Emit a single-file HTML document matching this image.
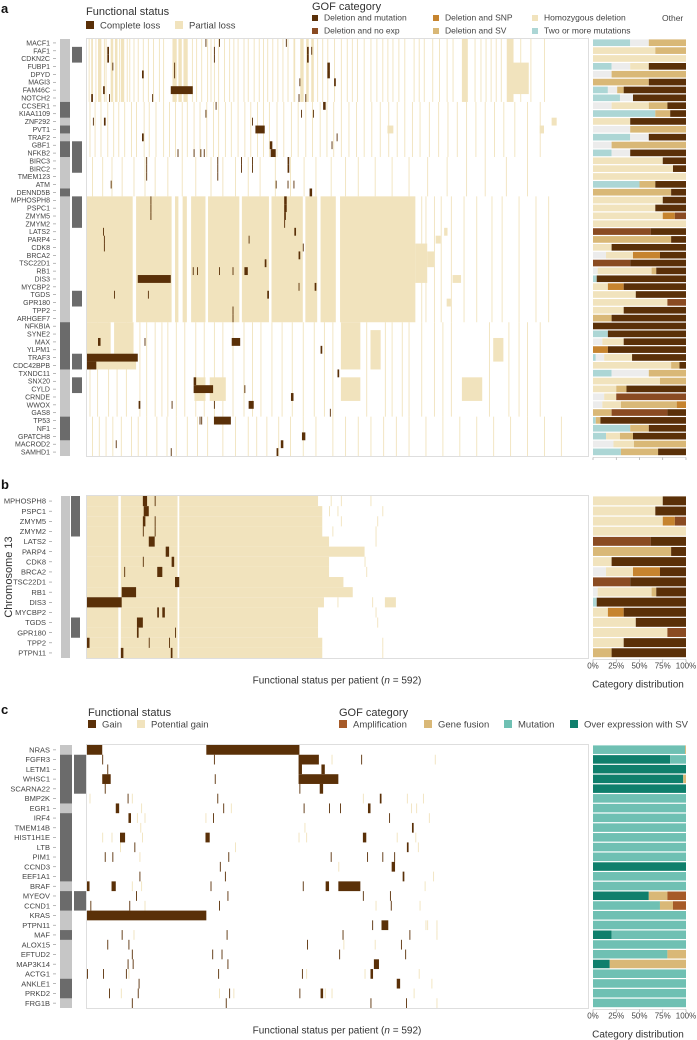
<!DOCTYPE html>
<html><head><meta charset="utf-8"><style>
html,body{margin:0;padding:0;background:#fff}
svg{display:block;font-family:"Liberation Sans",sans-serif}
</style></head><body>
<svg id="fig" width="697" height="1040" viewBox="0 0 697 1040" xmlns="http://www.w3.org/2000/svg"></svg>
<script>
// ---------- DATA ----------
const genesA=["MACF1","FAF1","CDKN2C","FUBP1","DPYD","MAGI3","FAM46C","NOTCH2","CCSER1","KIAA1109","ZNF292","PVT1","TRAF2","GBF1","NFKB2","BIRC3","BIRC2","TMEM123","ATM","DENND5B","MPHOSPH8","PSPC1","ZMYM5","ZMYM2","LATS2","PARP4","CDK8","BRCA2","TSC22D1","RB1","DIS3","MYCBP2","TGDS","GPR180","TPP2","ARHGEF7","NFKBIA","SYNE2","MAX","YLPM1","TRAF3","CDC42BPB","TXNDC11","SNX20","CYLD","CRNDE","WWOX","GAS8","TP53","NF1","GPATCH8","MACROD2","SAMHD1"];
const genesB=["MPHOSPH8","PSPC1","ZMYM5","ZMYM2","LATS2","PARP4","CDK8","BRCA2","TSC22D1","RB1","DIS3","MYCBP2","TGDS","GPR180","TPP2","PTPN11"];
const genesC=["NRAS","FGFR3","LETM1","WHSC1","SCARNA22","BMP2K","EGR1","IRF4","TMEM14B","HIST1H1E","LTB","PIM1","CCND3","EEF1A1","BRAF","MYEOV","CCND1","KRAS","PTPN11","MAF","ALOX15","EFTUD2","MAP3K14","ACTG1","ANKLE1","PRKD2","FRG1B"];
const nPatients=592;
// annotation columns (row ranges that are dark)
const annoA1=[[8,9],[11,11],[13,14],[19,19],[36,41],[48,50]];
const annoA2=[[1,2],[13,16],[20,23],[32,33],[40,41],[43,44]];
const annoB2=[[0,3],[12,13]];
const annoC1=[[1,5],[7,13],[15,16],[19,19],[24,25]];
const annoC2=[[1,4],[15,16]];
// panel a partial-loss stripes by row band [rowStart,rowEnd]
const bandsA=[[0,7],[8,14],[15,19],[20,35],[36,47],[48,52]];
const stripesTop=[2,[5,7],10,[13,17],20,22,[28,31],[33,36],38,[40,44],47,50,55,60,66,72,78,85,90,[101,106],[108,112],[114,119],124,129,135,142,146,150,155,162,168,173,178,185,190,197,203,208,213,219,225,231,237,[244,246],[252,256],[259,262],[265,268],272,278,284,292,300,307,313,319,327,335,342,349,355,361,368,375,386,392,398,408,416,425,432,[443,450],458,465,471,477,483,489,[496,504],512,524,540];
const stripesMid=[3,9,16,24,31,37,44,52,58,67,73,81,90,97,104,112,118,126,133,141,149,155,163,170,178,186,193,201,208,215,224,232,241,249,258,266,275,283,291,300,309,318,327,336,346,356,366,375,384,393,404,415,426,437,448,459,470,481,492,505,520,535];
const stripesLowMid=[6,18,29,41,55,68,80,95,112,128,146,160,175,190,204,222,240,256,270,288,305,320,340,360,380,402,425,448,470,495,520];
const chr13SpansA=[[0,54],[58,100],[104,108],[113,118],[123,140],[143,180],[183,215],[218,255],[258,272],[276,294],[299,388]];
const stripesChr13Right=[395,400,410,418,430,445,460,478,490,510,530,545];
const stripesLow=[3,12,25,35,46,62,70,80,88,95,105,115,128,138,150,160,172,185,195,205,218,230,242,255,268,280,290,330,352,360,372,380,395,410,420,430,475,498,510,520,535];
const stripesBottom=[6,14,22,30,40,52,60,70,82,94,105,118,130,142,160,175,190,200,212,226,240,255,270,290,305,320,335,350,365,380,400,420,440,460,480,500,520,540,560];
const bandStripes=[stripesTop,stripesMid,stripesLowMid,stripesChr13Right,stripesLow,stripesBottom];
// partial patches [rowStart,rowEnd,p0,p1]
const patchesA=[[3,6,498,522],[10,10,549,555],[11,11,535,540],[11,11,355,362],[26,30,388,402],[27,28,402,410],[25,25,412,418],[24,24,422,426],[30,30,432,442],[33,33,425,430],[36,39,0,28],[36,39,32,55],[40,41,0,58],[36,41,300,323],[37,41,335,347],[38,40,480,492],[43,45,127,140],[43,45,145,164],[43,45,300,323],[43,45,443,467]];
// complete loss [row,p0,p1]
const lossA=[[1,24,26],[2,24,26],[3,30,31],[4,65,67],[6,99,125],[6,19,21],[7,5,7],[7,26,27],[7,77,78],[3,103,104],[4,103,104],[0,140,141],[0,156,157],[1,150,151],[2,150,151],[0,235,236],[1,260,262],[2,260,262],[1,265,266],[3,284,287],[4,284,287],[5,292,294],[5,251,252],[7,250,251],[7,258,259],[8,279,282],[9,140,141],[8,152,153],[9,253,254],[9,267,268],[10,7,8],[10,20,22],[10,195,196],[11,199,210],[12,65,67],[12,295,296],[13,216,219],[14,217,223],[13,289,290],[14,107,108],[14,126,127],[14,134,135],[14,138,139],[15,237,239],[16,237,239],[15,70,71],[16,70,71],[17,70,71],[15,154,155],[16,154,155],[17,154,155],[15,182,183],[16,182,183],[15,195,196],[16,195,196],[18,223,224],[18,237,238],[18,244,245],[18,28,29],[19,263,266],[20,233,236],[21,233,236],[22,233,235],[23,233,234],[20,75,76],[21,75,76],[22,75,76],[24,245,247],[24,19,20],[25,191,192],[25,20,21],[26,20,21],[27,250,252],[29,186,190],[30,60,99],[29,125,126],[29,130,131],[29,156,157],[29,172,173],[32,213,215],[31,269,271],[31,250,251],[32,72,73],[32,32,33],[34,172,173],[35,172,173],[26,255,256],[28,210,212],[38,13,16],[38,68,69],[38,171,181],[39,276,278],[40,0,60],[41,0,11],[42,296,298],[43,126,129],[44,126,149],[45,241,244],[46,61,63],[46,100,101],[46,191,197],[47,287,288],[48,150,170],[48,133,134],[48,135,136],[50,254,258],[51,229,232],[52,224,226],[51,34,35],[52,99,100],[44,186,187],[46,150,151]];
// panel b
const mainSpansB=[[0,37],[40,107],[109,200]];
const rowEndB=[273,278,278,278,286,328,286,286,303,314,280,273,273,273,278,278];
const extraB=[[288,300,335],[286,296,349],[300,343],[290,341],[341],[],[328],[330],[],[],[296,337,[352,365]],[341],[343],[],[349],[349]];
const lossB=[[10,0,41],[9,41,58],[0,66,71],[0,80,81],[1,67,73],[2,66,69],[2,80,81],[3,66,67],[3,80,81],[4,73,80],[5,93,97],[6,100,103],[6,66,67],[7,83,89],[7,44,45],[8,104,109],[11,83,85],[11,89,92],[12,59,66],[13,59,61],[13,104,105],[14,0,3],[14,73,74],[14,97,98],[15,40,43],[15,99,101]];
// panel c gain [row,p0,p1] and potential gain
const gainC=[[0,0,18],[0,141,251],[1,18,19],[1,150,151],[1,250,274],[1,324,325],[2,24,25],[2,250,254],[2,277,281],[3,18,28],[3,151,152],[3,250,297],[4,21,22],[4,251,252],[4,275,279],[5,48,49],[5,154,155],[5,346,348],[6,34,38],[6,161,162],[6,256,257],[6,286,287],[6,299,300],[6,332,335],[7,49,52],[7,149,150],[7,357,358],[8,384,386],[9,39,45],[9,140,145],[9,326,330],[10,56,57],[10,378,380],[11,21,22],[11,30,31],[11,167,168],[11,288,289],[11,331,332],[11,349,350],[11,363,364],[12,157,158],[12,360,364],[13,62,63],[13,163,164],[13,373,375],[14,0,3],[14,29,34],[14,146,147],[14,255,256],[14,282,286],[14,297,323],[15,58,59],[15,166,167],[15,326,327],[15,358,359],[16,4,5],[16,50,51],[16,156,157],[16,359,360],[17,0,141],[18,337,338],[18,348,356],[19,41,42],[19,165,166],[19,302,303],[19,381,382],[20,24,25],[20,49,50],[20,260,261],[20,371,372],[21,53,54],[21,148,149],[21,159,160],[21,298,299],[21,376,377],[22,48,49],[22,54,55],[22,166,167],[22,339,345],[23,0,1],[23,19,20],[23,46,47],[23,155,156],[23,254,255],[23,335,338],[24,61,62],[24,366,370],[25,26,27],[25,60,61],[25,168,169],[25,251,252],[25,276,279],[26,53,54],[26,164,165],[26,335,336],[26,377,378]];
const potC=[[1,289],[1,411],[5,3],[5,53],[5,326],[5,378],[5,397],[6,64],[6,170],[6,383],[6,389],[7,140],[7,59],[7,68],[7,404],[8,63],[8,257],[9,18],[9,29],[9,65],[9,250],[9,259],[9,366],[9,388],[10,39],[10,175],[10,391],[11,62],[12,297],[13,409],[14,53],[14,64],[14,399],[16,68],[16,341],[16,393],[18,400],[18,402],[18,413],[19,55],[19,413],[20,303],[20,340],[23,49],[23,259],[23,328],[23,392],[24,407],[25,40],[25,156],[25,173],[25,281],[25,289],[25,386],[26,413]];
// category distributions [category, fraction]
const distA=[[["B",.4],["O",.2],["S",.4]],[["H",.67],["S",.33]],[["H",1]],[["B",.2],["O",.2],["H",.2],["D",.4]],[["O",.2],["S",.8]],[["S",.6],["D",.4]],[["B",.16],["O",.1],["S",.07],["D",.67]],[["B",.29],["O",.14],["D",.57]],[["O",.2],["H",.4],["S",.2],["D",.2]],[["B",.67],["S",.16],["D",.17]],[["H",.4],["D",.6]],[["O",.4],["S",.6]],[["B",.4],["O",.2],["D",.4]],[["O",.2],["S",.8]],[["B",.2],["O",.2],["D",.6]],[["H",.75],["D",.25]],[["H",.86],["D",.14]],[["H",1]],[["B",.5],["S",.17],["D",.33]],[["S",.84],["D",.16]],[["H",.75],["D",.25]],[["H",.67],["D",.33]],[["H",.75],["P",.13],["N",.12]],[["H",1]],[["N",.62],["D",.38]],[["S",.84],["D",.16]],[["H",.2],["D",.8]],[["O",.14],["H",.29],["P",.29],["D",.28]],[["N",.4],["D",.6]],[["O",.05],["H",.58],["S",.05],["D",.32]],[["B",.04],["D",.96]],[["H",.16],["P",.17],["D",.67]],[["H",.46],["D",.54]],[["H",.8],["N",.2]],[["H",.33],["D",.67]],[["S",.2],["D",.8]],[["D",1]],[["B",.16],["D",.84]],[["O",.1],["H",.23],["D",.67]],[["P",.16],["D",.84]],[["B",.03],["O",.09],["H",.3],["D",.58]],[["H",.84],["S",.09],["D",.07]],[["B",.2],["O",.4],["S",.4]],[["H",.72],["S",.28]],[["H",.25],["S",.11],["D",.64]],[["O",.12],["H",.13],["N",.75]],[["O",.1],["H",.2],["S",.6],["P",.1]],[["S",.2],["N",.6],["D",.2]],[["B",.03],["S",.05],["D",.92]],[["B",.4],["S",.2],["D",.4]],[["B",.14],["H",.15],["S",.14],["D",.57]],[["O",.22],["H",.22],["S",.56]],[["B",.3],["S",.4],["D",.3]]];
const distB=[[["H",.75],["D",.25]],[["H",.67],["D",.33]],[["H",.75],["P",.13],["N",.12]],[["H",1]],[["N",.62],["D",.38]],[["S",.84],["D",.16]],[["H",.2],["D",.8]],[["O",.14],["H",.29],["P",.29],["D",.28]],[["N",.4],["D",.6]],[["O",.05],["H",.58],["S",.05],["D",.32]],[["B",.04],["D",.96]],[["H",.16],["P",.17],["D",.67]],[["H",.46],["D",.54]],[["H",.8],["N",.2]],[["H",.33],["D",.67]],[["S",.2],["D",.8]]];
const distC=[[["M",.99],["F",.01]],[["V",.83],["M",.17]],[["V",1]],[["V",.97],["F",.03]],[["V",1]],[["M",1]],[["M",1]],[["M",1]],[["M",1]],[["M",1]],[["M",1]],[["M",1]],[["V",1]],[["M",1]],[["M",1]],[["V",.6],["F",.2],["A",.2]],[["M",.72],["F",.14],["A",.14]],[["M",1]],[["M",1]],[["V",.2],["M",.8]],[["M",1]],[["M",.8],["F",.2]],[["V",.18],["F",.82]],[["M",1]],[["M",1]],[["M",1]],[["M",1]]];
const tickLabels=["0%","25%","50%","75%","100%"];

// ---------- STYLE ----------
const COL={D:"#5a3008",N:"#8a4b22",P:"#c6842f",S:"#d9b877",H:"#f1e3bd",B:"#acd6d5",O:"#ececec",M:"#6fc0b3",V:"#0f7f6c",A:"#a65a28",F:"#d9b877"};
const PARTIAL="#f1e3bd",LOSS="#5a3008",LIGHTG="#c6c6c6",DARKG="#6b6b6b";
const NS="http://www.w3.org/2000/svg";
const svg=document.getElementById("fig");
const HX0=87,HX1=588,DX0=593,DX1=686;
function xP(p){return HX0+p*(HX1-HX0)/nPatients;}
function xD(f){return DX0+f*(DX1-DX0);}
function mk(tag,attrs,parent){const e=document.createElementNS(NS,tag);for(const k in attrs)e.setAttribute(k,attrs[k]);(parent||svg).appendChild(e);return e;}
function txt(x,y,s,size,opts,parent){const e=mk("text",Object.assign({x:x,y:y,"font-size":size,fill:"#333"},opts||{}),parent);e.textContent=s;return e;}
function group(name){const g=mk("g",{});return g;}

const panels={
 a:{top:39,rowH:417/53,genes:genesA},
 b:{top:496,rowH:162/16,genes:genesB},
 c:{top:745,rowH:263/27,genes:genesC}
};
function yR(P,r){return P.top+r*P.rowH;}

// ---------- generic drawing ----------
function drawLabels(P,name,xEnd,size){
 const g=group(name+'-gene-labels');
 P.genes.forEach((gn,i)=>{
  const t=txt(xEnd,yR(P,i)+P.rowH/2+size*0.35,gn,size,{"text-anchor":"end",fill:"#444"},g);
  
  
  const tk=mk("line",{x1:xEnd+3,x2:xEnd+6,y1:yR(P,i)+P.rowH/2,y2:yR(P,i)+P.rowH/2,stroke:"#888","stroke-width":0.6},g);
  
  
 });
}
function drawAnno(P,name,x,w,darkRanges,baseColor){
 const g=group(name);
 if(baseColor){const r=mk("rect",{x:x,y:P.top,width:w,height:P.rowH*P.genes.length,fill:baseColor},g);}
 darkRanges.forEach(rg=>{const r=mk("rect",{x:x,y:yR(P,rg[0]),width:w,height:(rg[1]-rg[0]+1)*P.rowH,fill:DARKG},g);});
}
function cell(g,P,r0,r1,p0,p1,fill,name){
 const w=Math.max(xP(p1)-xP(p0),0.9);
 const e=mk("rect",{x:xP(p0),y:yR(P,r0),width:w,height:(r1-r0+1)*P.rowH,fill:fill},g);
 
 
}
function span(s){return Array.isArray(s)?s:[s,s+1];}
function drawBox(P,name){
 const b=mk("rect",{x:HX0-0.5,y:P.top-0.5,width:HX1-HX0+1,height:P.rowH*P.genes.length+1,fill:"none",stroke:"#d6d6d6","stroke-width":0.8});
 
 
}
function drawDist(P,dist,name){
 const g=group(name);
 dist.forEach((segs,i)=>{let c=0;segs.forEach(s=>{
  const e=mk("rect",{x:xD(c),y:yR(P,i)+0.4,width:(DX1-DX0)*s[1],height:P.rowH-1.2,fill:COL[s[0]]},g);
  
  
  c+=s[1];});});
}
function drawDistAxis(P,withLabels){
 const y=P.top+P.rowH*P.genes.length+1.5;
 const g=group('distribution-axis');
 mk("line",{x1:DX0,x2:DX1,y1:y,y2:y,stroke:"#bbb","stroke-width":0.6},g);
 tickLabels.forEach((l,i)=>{const f=i/4;
  const t=mk("line",{x1:xD(f),x2:xD(f),y1:y,y2:y+2.5,stroke:"#999","stroke-width":0.6},g);
  
  if(withLabels){const tl=txt(xD(f),y+9,l,8,{"text-anchor":"middle",fill:"#444"},g);}
 });
 if(withLabels){
  const a=txt(638,y+28,"Category distribution",10,{"text-anchor":"middle",fill:"#333"},g);
  
  const b=txt(337,y+24,"",10,{"text-anchor":"middle",fill:"#333"},g);
  b.innerHTML='Functional status per patient (<tspan font-style="italic">n</tspan> = 592)';
  
 }
}
function legendItem(x,y,sz,color,label,name,fs){
 const r=mk("rect",{x:x,y:y,width:sz,height:sz,fill:color});
 
 const t=txt(x+sz+6,y+sz-0.5,label,fs,{fill:"#444"});
 
}

// ---------- PANEL A ----------
{
 const P=panels.a;
 const pl=txt(1,13,"a",13,{"font-weight":"bold",fill:"#111"});
 const t1=txt(86,15,"Functional status",11,{fill:"#333"});
 legendItem(86,21,8,LOSS,"Complete loss","legend-complete-loss",9.5);
 legendItem(175,21,8,PARTIAL,"Partial loss","legend-partial-loss",9.5);
 const t2=txt(312,10,"GOF category",11,{fill:"#333"});
 legendItem(312,15,6,COL.D,"Deletion and mutation","legend-deletion-mutation",8.5);
 legendItem(312,28,6,COL.N,"Deletion and no exp","legend-deletion-no-exp",8.5);
 legendItem(433,15,6,COL.P,"Deletion and SNP","legend-deletion-snp",8.5);
 legendItem(433,28,6,COL.S,"Deletion and SV","legend-deletion-sv",8.5);
 legendItem(532,15,6,COL.H,"Homozygous deletion","legend-homozygous-deletion",8.5);
 legendItem(532,28,6,COL.B,"Two or more mutations","legend-two-or-more",8.5);
 const ot=txt(662,21,"Other",8.5,{fill:"#444"});

 drawLabels(P,'panel-a',50,7);
 drawAnno(P,'panel-a-annotation-col1',60,10,annoA1,LIGHTG);
 drawAnno(P,'panel-a-annotation-col2',72,10,annoA2,null);
 const g=group('panel-a-heatmap');
 bandsA.forEach((b,i)=>{bandStripes[i].forEach(s=>{const q=span(s);cell(g,P,b[0],b[1],q[0],q[1],PARTIAL,'partial-stripe');});});
 chr13SpansA.forEach(s=>cell(g,P,20,35,s[0],s[1],PARTIAL,'partial-block'));
 patchesA.forEach(s=>cell(g,P,s[0],s[1],s[2],s[3],PARTIAL,'partial-patch'));
 lossA.forEach(s=>cell(g,P,s[0],s[0],s[1],s[2],LOSS,'complete-loss'));
 drawBox(P,'panel-a-heatmap-frame');
 drawDist(P,distA,'panel-a-distribution');
 drawDistAxis(P,false);
}
// ---------- PANEL B ----------
{
 const P=panels.b;
 const pl=txt(1,489,"b",13,{"font-weight":"bold",fill:"#111"});
 const ch=txt(0,0,"Chromosome 13",11,{"text-anchor":"middle",fill:"#333",transform:"translate(12,577) rotate(-90)"});
 
 drawLabels(P,'panel-b',46,7.5);
 drawAnno(P,'panel-b-annotation-col1',61,9,[],LIGHTG);
 drawAnno(P,'panel-b-annotation-col2',71,9,annoB2,null);
 const g=group('panel-b-heatmap');
 genesB.forEach((gn,i)=>{
  mainSpansB.forEach((s,k)=>{const end=k===mainSpansB.length-1?rowEndB[i]:s[1];cell(g,P,i,i,s[0],end,PARTIAL,'partial-block');});
  extraB[i].forEach(s=>{const q=span(s);cell(g,P,i,i,q[0],q[1],PARTIAL,'partial-stripe');});
 });
 lossB.forEach(s=>cell(g,P,s[0],s[0],s[1],s[2],LOSS,'complete-loss'));
 drawBox(P,'panel-b-heatmap-frame');
 drawDist(P,distB,'panel-b-distribution');
 drawDistAxis(P,true);
}
// ---------- PANEL C ----------
{
 const P=panels.c;
 const pl=txt(1,714,"c",13,{"font-weight":"bold",fill:"#111"});
 const t1=txt(88,716,"Functional status",11,{fill:"#333"});
 legendItem(88,720,8,LOSS,"Gain","legend-gain",9.5);
 legendItem(137,720,8,PARTIAL,"Potential gain","legend-potential-gain",9.5);
 const t2=txt(339,716,"GOF category",11,{fill:"#333"});
 legendItem(339,720,8,COL.A,"Amplification","legend-amplification",9.5);
 legendItem(424,720,8,COL.F,"Gene fusion","legend-gene-fusion",9.5);
 legendItem(504,720,8,COL.M,"Mutation","legend-mutation",9.5);
 legendItem(570,720,8,COL.V,"Over expression with SV","legend-over-expression",9.5);
 drawLabels(P,'panel-c',50,7.5);
 drawAnno(P,'panel-c-annotation-col1',60,12,annoC1,LIGHTG);
 drawAnno(P,'panel-c-annotation-col2',74,12,annoC2,null);
 const g=group('panel-c-heatmap');
 potC.forEach(s=>cell(g,P,s[0],s[0],s[1],s[1]+1,PARTIAL,'potential-gain'));
 gainC.forEach(s=>cell(g,P,s[0],s[0],s[1],s[2],LOSS,'gain'));
 drawBox(P,'panel-c-heatmap-frame');
 drawDist(P,distC,'panel-c-distribution');
 drawDistAxis(P,true);
}
</script>
</body></html>
